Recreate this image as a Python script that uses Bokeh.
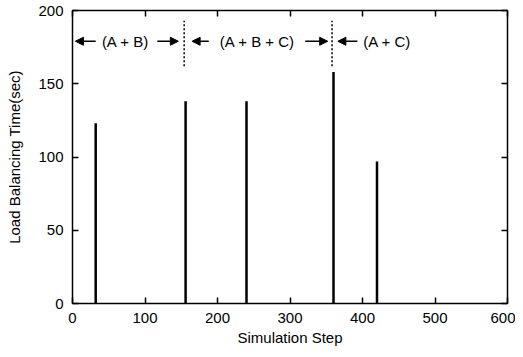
from bokeh.plotting import figure
from bokeh.models import LinearAxis, Range1d, Arrow, NormalHead, Label, FixedTicker
from bokeh.embed import file_html
from bokeh.resources import INLINE

# Data
spike_steps = [32, 156, 240, 360, 420]
spike_times = [123, 138, 138, 158, 97]

x_ticks = [0, 100, 200, 300, 400, 500, 600]
y_ticks = [0, 50, 100, 150, 200]

phase_bounds = [154, 358]
phase_labels = ["(A + B)", "(A + B + C)", "(A + C)"]
phase_label_x = [73, 255, 434]
# arrows: (tail, head)
arrow_pairs = [(32, 4), (117, 146), (188, 165), (321, 352), (393, 366)]
annot_y = 179
dotted_y = (162, 193)

FONT = "Liberation Sans"

p = figure(width=515, height=349, output_backend="svg", toolbar_location=None,
           x_range=Range1d(0, 600), y_range=Range1d(0, 200),
           min_border_left=72, min_border_right=8, min_border_top=10, min_border_bottom=46)
p.grid.visible = False
p.background_fill_color = "white"
p.border_fill_color = "white"
p.outline_line_color = "black"
p.outline_line_width = 1.5

p.segment(x0=spike_steps, y0=[0]*len(spike_steps), x1=spike_steps, y1=spike_times,
          line_color="black", line_width=2.5)

p.segment(x0=phase_bounds, y0=[dotted_y[0]]*len(phase_bounds),
          x1=phase_bounds, y1=[dotted_y[1]]*len(phase_bounds),
          line_color="black", line_width=1.5, line_dash="2 2")

for t, h in arrow_pairs:
    p.add_layout(Arrow(end=NormalHead(size=8, fill_color="black", line_color="black"),
                       x_start=t, y_start=annot_y, x_end=h, y_end=annot_y,
                       line_color="black", line_width=1.5))

for lab, lx in zip(phase_labels, phase_label_x):
    p.add_layout(Label(x=lx, y=annot_y, text=lab, text_align="center", text_baseline="middle",
                       text_font=FONT, text_font_size="15px", text_color="black"))

def style(ax):
    ax.axis_line_color = None
    ax.major_tick_in = 6
    ax.major_tick_out = 0
    ax.minor_tick_line_color = None
    ax.major_tick_line_color = "black"
    ax.major_tick_line_width = 1.5
    ax.major_label_text_font = FONT
    ax.major_label_text_font_size = "15px"
    ax.major_label_text_color = "black"
    ax.axis_label_text_font = FONT
    ax.axis_label_text_font_size = "15px"
    ax.axis_label_text_font_style = "normal"
    ax.axis_label_text_color = "black"

p.xaxis.ticker = FixedTicker(ticks=x_ticks)
p.yaxis.ticker = FixedTicker(ticks=y_ticks)
p.xaxis.axis_label = "Simulation Step"
p.yaxis.axis_label = "Load Balancing Time(sec)"
style(p.xaxis[0])
style(p.yaxis[0])
p.xaxis.major_label_standoff = 9
p.yaxis.major_label_standoff = 9
p.xaxis.axis_label_standoff = 3
p.yaxis.axis_label_standoff = 12

top = LinearAxis(ticker=FixedTicker(ticks=x_ticks),
                 major_label_overrides={t: "" for t in x_ticks})
right = LinearAxis(ticker=FixedTicker(ticks=y_ticks),
                   major_label_overrides={t: "" for t in y_ticks})
style(top)
style(right)
for ax in (top, right):
    ax.major_label_standoff = 0
    ax.axis_label_standoff = 0
    ax.major_label_text_font_size = "1px"
p.add_layout(top, "above")
p.add_layout(right, "right")

open("out.html", "w").write(file_html(p, INLINE))
